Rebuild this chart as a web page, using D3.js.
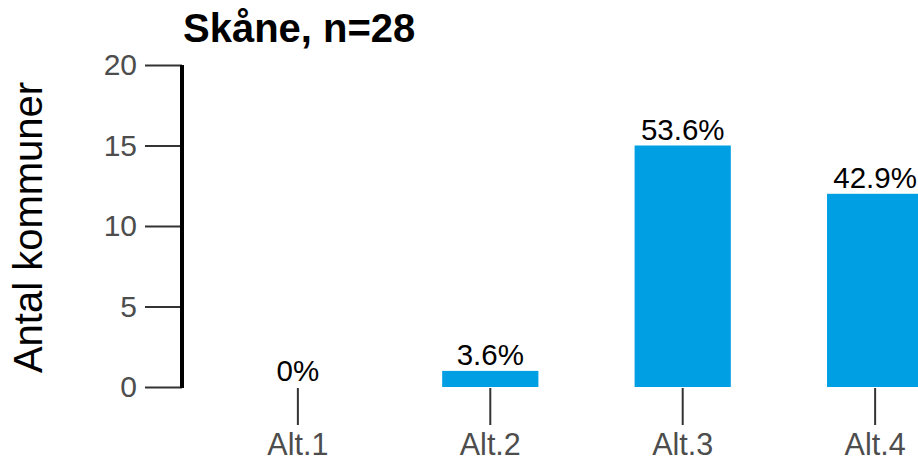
<!DOCTYPE html>
<html>
<head>
<meta charset="utf-8">
<script src="https://cdn.jsdelivr.net/npm/d3@7.9.0/dist/d3.min.js"></script>
<style>
  body { margin: 0; background: #fff; }
  svg { display: block; font-family: "Liberation Sans", Arial, sans-serif; }
</style>
</head>
<body>
<svg width="918" height="462"></svg>
<script>
const categories = ['Alt.1', 'Alt.2', 'Alt.3', 'Alt.4'];
const counts = [0, 1, 15, 12];
const percentLabels = ['0%', '3.6%', '53.6%', '42.9%'];
const yTicks = [0, 5, 10, 15, 20];
const title = 'Skåne, n=28';
const yTitle = 'Antal kommuner';

const svg = d3.select('svg');

// y: 0 -> 387, 20 -> 65
let y = d3.scaleLinear().domain([0, 20]).range([387, 65]);

// bands run past the right edge, the last bar gets cut like in the original
let x = d3.scaleBand()
    .domain(categories)
    .range([183, 990])
    .paddingInner(0.5)
    .paddingOuter(0.347);

// bars
categories.forEach((c, i) => {
  svg.append('rect')
      .attr('x', x(c))
      .attr('y', y(counts[i]))
      .attr('width', x.bandwidth())
      .attr('height', y(0) - y(counts[i]))
      .attr('fill', '#009FE3');

  svg.append('text')
      .attr('x', x(c) + x.bandwidth() / 2)
      .attr('y', y(counts[i]) - 6)
      .attr('text-anchor', 'middle')
      .attr('font-size', 29.5)
      .attr('fill', '#000')
      .text(percentLabels[i]);
});

// y axis
let yAxis = svg.append('g')
    .attr('transform', 'translate(182,0)')
    .call(d3.axisLeft(y).tickValues(yTicks).tickSize(37).tickPadding(8));
yAxis.select('.domain').remove();
yAxis.selectAll('.tick line').attr('stroke', '#333').attr('stroke-width', 2);
yAxis.selectAll('.tick text')
    .attr('font-size', 30)
    .attr('fill', '#4d4d4d')
    .attr('font-family', '"Liberation Sans", Arial, sans-serif');

svg.append('line')
    .attr('x1', 182).attr('x2', 182)
    .attr('y1', y(20)).attr('y2', y(0) + 1)
    .attr('stroke', '#000')
    .attr('stroke-width', 4);

// x axis: ticks and labels only
let xAxis = svg.append('g')
    .attr('transform', `translate(0,${y(0) + 1})`)
    .call(d3.axisBottom(x).tickSize(37).tickPadding(8));
xAxis.select('.domain').remove();
xAxis.selectAll('.tick line').attr('stroke', '#333').attr('stroke-width', 2);
xAxis.selectAll('.tick text')
    .attr('font-size', 30.5)
    .attr('fill', '#4d4d4d')
    .attr('font-family', '"Liberation Sans", Arial, sans-serif');

// titles
svg.append('text')
    .attr('x', 183)
    .attr('y', 42)
    .attr('font-size', 40)
    .attr('font-weight', 'bold')
    .attr('fill', '#000')
    .text(title);

svg.append('text')
    .attr('transform', 'translate(42,227.5) rotate(-90)')
    .attr('text-anchor', 'middle')
    .attr('font-size', 40)
    .attr('fill', '#000')
    .text(yTitle);
</script>
</body>
</html>
